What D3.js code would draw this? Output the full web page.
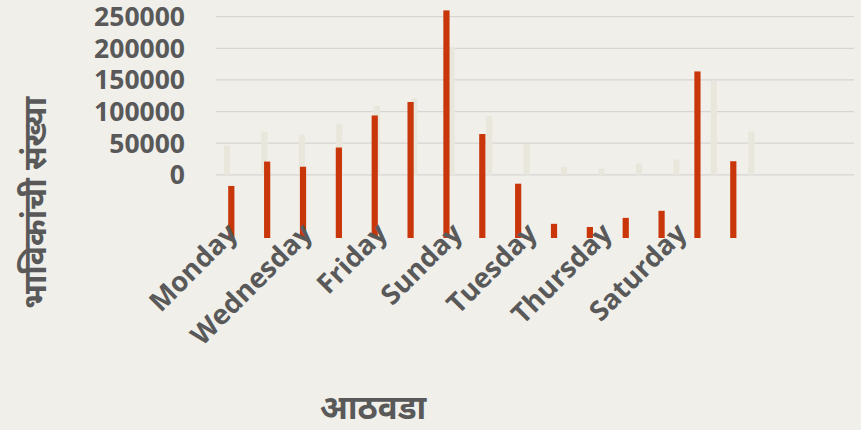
<!DOCTYPE html>
<html>
<head>
<meta charset="utf-8">
<script src="https://cdn.jsdelivr.net/npm/d3@7"></script>
<style>
  body { margin: 0; background: #f0efea; }
  svg { display: block; }
  text { font-family: "Open Sans", "Noto Sans", "Noto Sans Devanagari", sans-serif; font-weight: bold; fill: #595959; }
</style>
</head>
<body>
<div id="chart"></div>
<script>
// days of the week (category axis)
let days = ['Monday', 'Tuesday', 'Wednesday', 'Thursday', 'Friday', 'Saturday', 'Sunday',
            'Monday', 'Tuesday', 'Wednesday', 'Thursday', 'Friday', 'Saturday', 'Sunday', 'Monday'];

// number of visitors, same series drawn on primary (light) and secondary (red) axis
let visitors = [46300, 68000, 63400, 80500, 109000, 121000, 202500, 92500, 48300, 12600, 9800, 17900, 24200, 148200, 68300];

let yTicks = [0, 50000, 100000, 150000, 200000, 250000];

let yTitle = 'भाविकांची संख्या';
let xTitle = 'आठवडा';

let width = 861, height = 430;

let svg = d3.select('#chart').append('svg')
    .attr('width', width)
    .attr('height', height);

// scales
let yPrimary = d3.scaleLinear().domain([0, 250000]).range([174.8, 16.7]);
let ySecondary = d3.scaleLinear().domain([0, 250000]).range([238, 238 - 5 * 56.2]);

let idx = d3.range(visitors.length);
let xPrimary = d3.scalePoint().domain(idx).range([227, 751.3]);
let xSecondary = d3.scalePoint().domain(idx).range([231.3, 733.3]);

let barWidth = 6.2;

// gridlines
svg.selectAll('.grid')
    .data(yTicks)
    .enter().append('line')
    .attr('x1', 216)
    .attr('x2', 854)
    .attr('y1', d => yPrimary(d))
    .attr('y2', d => yPrimary(d))
    .attr('stroke', '#d5d5d3')
    .attr('stroke-width', 1.3);

// y tick labels
svg.selectAll('.ylab')
    .data(yTicks)
    .enter().append('text')
    .attr('x', 185)
    .attr('y', d => yPrimary(d))
    .attr('dy', '0.36em')
    .attr('text-anchor', 'end')
    .style('font-size', '26.5px')
    .text(d => d);

// light bars (primary axis)
svg.selectAll('.light')
    .data(visitors)
    .enter().append('rect')
    .attr('x', (d, i) => xPrimary(i) - barWidth / 2)
    .attr('y', d => yPrimary(d))
    .attr('width', barWidth)
    .attr('height', d => yPrimary(0) - yPrimary(d))
    .attr('fill', '#e9e7dc');

// red bars (secondary axis)
svg.selectAll('.red')
    .data(visitors)
    .enter().append('rect')
    .attr('x', (d, i) => xSecondary(i) - barWidth / 2)
    .attr('y', d => ySecondary(d))
    .attr('width', barWidth)
    .attr('height', d => ySecondary(0) - ySecondary(d))
    .attr('fill', '#c8360a');

// category labels, every other one, on the primary category axis
svg.selectAll('.xlab')
    .data(days)
    .enter().filter((d, i) => i % 2 === 0 && i < 13)
    .append('text')
    .attr('transform', (d, i) => {
        let x = xPrimary(i * 2) + 12;
        return 'translate(' + x + ',' + 235 + ') rotate(-45)';
    })
    .attr('text-anchor', 'end')
    .style('font-size', '27.5px')
    .text(d => d);

// axis titles
svg.append('text')
    .attr('transform', 'translate(46,203) rotate(-90)')
    .attr('text-anchor', 'middle')
    .style('font-size', '32px')
    .text(yTitle);

svg.append('text')
    .attr('x', 373)
    .attr('y', 419)
    .attr('text-anchor', 'middle')
    .style('font-size', '33px')
    .text(xTitle);
</script>
</body>
</html>
